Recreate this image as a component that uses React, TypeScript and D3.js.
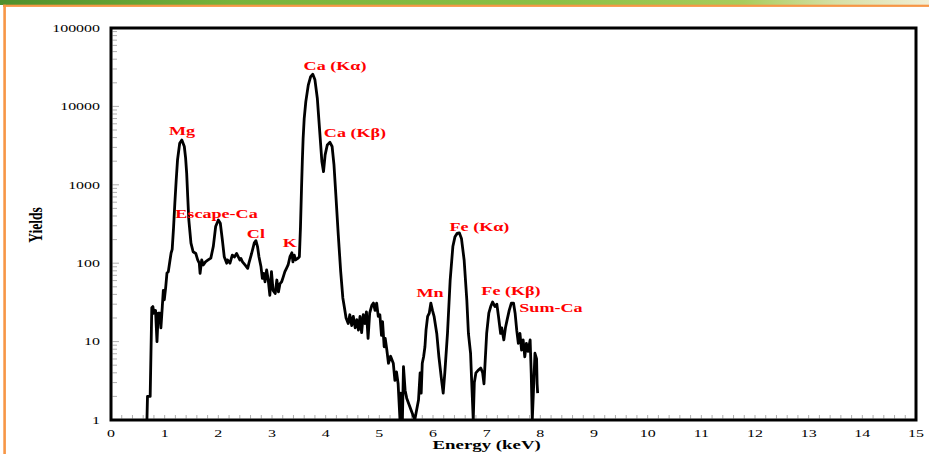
import React from "react";
import * as d3 from "d3";

// XRF spectrum: energy (keV) and counts
const energy = [
  0.67, 0.68, 0.73, 0.76, 0.78, 0.8, 0.83, 0.857, 0.88, 0.91, 0.93, 0.956, 0.975, 0.993, 1.02, 1.043, 1.068,
  1.1, 1.12, 1.14, 1.165, 1.19, 1.215, 1.24, 1.28, 1.32, 1.366, 1.39, 1.41, 1.43, 1.45, 1.49, 1.53, 1.58, 1.615, 1.645, 1.66, 1.69,
  1.72, 1.76, 1.81, 1.86, 1.906, 1.95, 2.0, 2.037, 2.075, 2.11, 2.156, 2.17, 2.217, 2.26, 2.3, 2.34, 2.37,
  2.4, 2.42, 2.45, 2.497, 2.547, 2.57, 2.62, 2.67, 2.7, 2.73, 2.757, 2.795, 2.82, 2.845, 2.87, 2.9, 2.93,
  2.96, 2.99, 3.02, 3.06, 3.09, 3.12, 3.15, 3.18, 3.21, 3.24, 3.27, 3.3, 3.335, 3.37, 3.39, 3.415, 3.44,
  3.48, 3.51, 3.53, 3.55, 3.565, 3.58, 3.6, 3.63, 3.676, 3.72, 3.76, 3.8, 3.845, 3.894, 3.93, 3.96, 3.99, 4.03, 4.08, 4.12,
  4.155, 4.19, 4.235, 4.28, 4.32, 4.35, 4.38, 4.42, 4.45, 4.485, 4.515, 4.55, 4.58, 4.61, 4.64, 4.67, 4.7,
  4.73, 4.76, 4.79, 4.82, 4.86, 4.89, 4.92, 4.95, 4.98, 5.01, 5.04, 5.06, 5.09, 5.11, 5.14, 5.17, 5.21,
  5.26, 5.29, 5.32, 5.35, 5.385, 5.4, 5.43, 5.45, 5.48, 5.51, 5.66, 5.73, 5.76, 5.78, 5.8, 5.825, 5.85,
  5.87, 5.9, 5.93, 5.96, 5.99, 6.02, 6.07, 6.11, 6.16, 6.19, 6.22, 6.27, 6.32, 6.37, 6.41, 6.45, 6.49,
  6.53, 6.58, 6.63, 6.66, 6.7, 6.72, 6.75, 6.77, 6.8, 6.84, 6.89, 6.925, 6.95, 6.97, 7.0, 7.04, 7.075,
  7.11, 7.155, 7.19, 7.22, 7.26, 7.28, 7.32, 7.35, 7.38, 7.42, 7.46, 7.5, 7.53, 7.56, 7.59, 7.62, 7.65,
  7.68, 7.71, 7.74, 7.77, 7.81, 7.83, 7.85, 7.87, 7.9, 7.93, 7.94, 7.95,
];

const yields = [
  1, 2, 2, 27, 28, 23, 25, 10, 23, 23, 15, 28, 45, 34, 50, 75, 78,
  110, 135, 150, 280, 590, 1150, 2090, 3390, 3720, 3080, 2200, 1410, 700, 356, 180, 140, 133, 110, 100, 74, 110,
  95, 104, 110, 116, 163, 293, 356, 323, 198, 121, 100, 110, 100, 127, 120, 133, 121,
  110, 115, 104, 95, 86, 100, 133, 182, 194, 163, 121, 90, 64, 74, 58, 82, 61,
  39, 78, 45, 41, 61, 43, 55, 58, 67, 78, 86, 95, 121, 136, 104, 127, 110,
  115, 121, 280, 900, 2000, 3900, 7000, 11500, 18700, 24000, 25700, 21800, 12600, 4300, 1960, 1470, 2410, 3220, 3480, 3080,
  1790, 740, 230, 78, 36, 27, 20, 17, 22, 16, 21, 15, 19, 14, 21, 13, 22,
  17, 24, 11, 23, 29, 31, 25, 31, 21, 22, 12, 18, 8.6, 11, 7.8, 5.3, 6.5,
  5.3, 3.2, 4.1, 2.9, 1, 2.2, 1, 4.8, 2.4, 1.9, 1, 1.8, 4.0, 2.2, 5.3, 6.4, 8.6,
  14, 21, 23, 31, 25, 21, 12.7, 6.4, 3.2, 2.2, 4, 12.7, 61, 163, 218, 240, 244,
  207, 110, 34, 12.7, 7.1, 3.2, 1, 3, 4, 4.3, 4.6, 4, 2.9, 5.3, 12.7, 23, 28,
  32, 28, 30, 21, 12.7, 15, 10.5, 15, 18.8, 25, 31, 31, 23, 14, 9.5, 12.7, 7.8,
  10.5, 6.4, 9.5, 7.5, 10.5, 4, 1, 2.2, 7.1, 6, 2.9, 2.2,
];

// Peak annotations: label, centre energy, label baseline in counts
const peakLabels = ["Mg", "Escape-Ca", "Cl", "K", "Ca (Kα)", "Ca (Kβ)", "Mn", "Fe (Kα)", "Fe (Kβ)", "Sum-Ca"];
const peakLabelEnergy = [1.323, 1.966, 2.7, 3.33, 4.174, 4.546, 5.944, 6.866, 7.453, 8.198];
const peakLabelYield = [4315, 377, 210, 161, 29100, 4070, 37, 261, 39, 24.2];

const xTicks = d3.range(0, 16);
const yTicks = [1, 10, 100, 1000, 10000, 100000];

const W = 929;
const H = 454;
const left = 111;
const right = 916;
const top = 28;
const bottom = 420;
const stretch = 1.45;
const serif = "'Liberation Serif', 'Times New Roman', serif";

export default function App() {
  const x = d3.scaleLinear().domain([0, 15]).range([left, right]);
  const y = d3.scaleLog().domain([1, 100000]).range([bottom, top]);

  const pts: [number, number][] = energy.map((e, i) => [e, yields[i]]);
  const line = d3
    .line<[number, number]>()
    .x((d) => x(d[0]))
    .y((d) => y(d[1]));

  const minorX = d3.range(0, 15.001, 0.2);
  const minorY: number[] = [];
  for (let p = 0; p < 5; p++) for (let k = 1; k < 10; k++) minorY.push(k * Math.pow(10, p));

  return (
    <svg
      width={W}
      height={H}
      style={{ position: "absolute", left: 0, top: 0, background: "#fff" }}
      fontFamily={serif}
    >
      <defs>
        <linearGradient id="band" x1="0" x2="1" y1="0" y2="0">
          <stop offset="0" stopColor="#4f8f2c" />
          <stop offset="0.25" stopColor="#78b33c" />
          <stop offset="0.6" stopColor="#8cc046" />
          <stop offset="0.8" stopColor="#a9cc5c" />
          <stop offset="0.9" stopColor="#d6e0a6" />
          <stop offset="1" stopColor="#f2efd6" />
        </linearGradient>
        <clipPath id="plot">
          <rect x={left} y={top - 2} width={right - left} height={bottom - top + 2} />
        </clipPath>
      </defs>

      {/* page decoration */}
      <rect x={0} y={0} width={W} height={5} fill="url(#band)" />
      <rect x={3} y={4.7} width={W - 3} height={2.2} fill="#f79646" />
      <rect x={3.3} y={4.7} width={2.6} height={H} fill="#f79646" />

      {/* minor ticks */}
      {minorY.map((v, i) => (
        <line
          key={"my" + i}
          x1={left + 1.5}
          x2={left + (Math.log10(v) % 1 === 0 ? 8 : 6)}
          y1={y(v)}
          y2={y(v)}
          stroke="#9a9a9a"
          strokeWidth={0.8}
        />
      ))}
      {minorX.map((v, i) => (
        <line
          key={"mx" + i}
          x1={x(v)}
          x2={x(v)}
          y1={bottom - 1.5}
          y2={bottom - 5}
          stroke="#9a9a9a"
          strokeWidth={0.8}
        />
      ))}

      {/* frame */}
      <rect
        x={left}
        y={top}
        width={right - left}
        height={bottom - top}
        fill="none"
        stroke="#000"
        strokeWidth={3}
      />

      {/* spectrum */}
      <path
        d={line(pts) || ""}
        fill="none"
        stroke="#000"
        strokeWidth={2.8}
        strokeLinejoin="round"
        clipPath="url(#plot)"
      />

      {/* tick labels */}
      {yTicks.map((v) => (
        <text
          key={"yt" + v}
          transform={`translate(${left - 11},${y(v) + 3.8}) scale(${stretch},1)`}
          textAnchor="end"
          fontSize={11}
          fill="#000"
        >
          {String(v)}
        </text>
      ))}
      {xTicks.map((v) => (
        <text
          key={"xt" + v}
          transform={`translate(${x(v)},437) scale(${stretch},1)`}
          textAnchor="middle"
          fontSize={11}
          fill="#000"
        >
          {String(v)}
        </text>
      ))}

      {/* axis titles */}
      <text
        transform={`translate(${x(7.0)},449) scale(${stretch},1)`}
        textAnchor="middle"
        fontSize={13}
        fontWeight="bold"
        fill="#000"
      >
        Energy (keV)
      </text>
      <text
        transform={`translate(42,225) rotate(-90) scale(1,${stretch})`}
        textAnchor="middle"
        fontSize={13.5}
        fontWeight="bold"
        fill="#000"
      >
        Yields
      </text>

      {/* peak labels */}
      {peakLabels.map((t, i) => (
        <text
          key={t}
          transform={`translate(${x(peakLabelEnergy[i])},${y(peakLabelYield[i])}) scale(${stretch},1)`}
          textAnchor="middle"
          fontSize={12.5}
          fontWeight="bold"
          fill="#ff0000"
        >
          {t}
        </text>
      ))}
    </svg>
  );
}
